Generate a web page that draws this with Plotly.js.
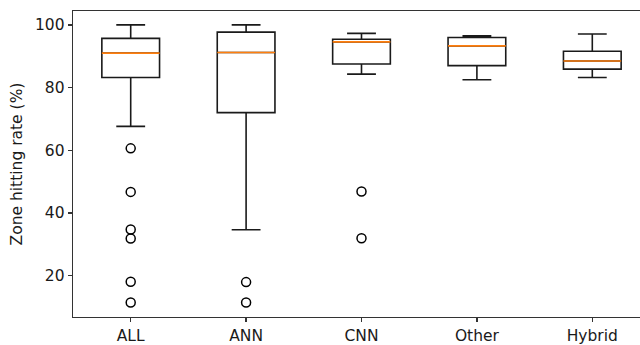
<!DOCTYPE html>
<html>
<head>
<meta charset="utf-8">
<script src="https://cdn.plot.ly/plotly-3.0.1.min.js"></script>
<style>
html, body { margin: 0; padding: 0; overflow: hidden; background: #fff; }
#chart { width: 660px; height: 345px; }
</style>
</head>
<body>
<div id="chart"></div>
<script>
// Data
const categories = ["ALL", "ANN", "CNN", "Other", "Hybrid"];
const lowerWhisker = [67.6, 34.6, 84.3, 82.5, 83.2];
const q1Values     = [83.2, 72.0, 87.5, 87.0, 85.9];
const medianValues = [91.0, 91.2, 94.6, 93.3, 88.5];
const q3Values     = [95.7, 97.7, 95.4, 96.0, 91.6];
const upperWhisker = [100.0, 100.0, 97.3, 96.5, 97.1];
const outliersALL    = [60.6, 46.7, 34.7, 31.8, 18.0, 11.4];
const outliersANN    = [17.9, 11.4];
const outliersCNN    = [46.8, 31.9];
const outliersOther  = [];
const outliersHybrid = [];
const yTicks = [20, 40, 60, 80, 100];

const outlierGroups = [outliersALL, outliersANN, outliersCNN, outliersOther, outliersHybrid];
const positions = categories.map((c, i) => i);
const boxHalf = 0.25;

const traces = [];
traces.push({
  type: "box",
  x: positions,
  q1: q1Values,
  median: medianValues,
  q3: q3Values,
  lowerfence: lowerWhisker,
  upperfence: upperWhisker,
  width: 0.5,
  whiskerwidth: 0.5,
  fillcolor: "rgba(255,255,255,0)",
  line: { color: "#1a1a1a", width: 1.6 },
  boxpoints: false,
  hoverinfo: "skip",
  showlegend: false
});

// median lines (orange) built from the medians
const mx = [], my = [];
positions.forEach((p, i) => {
  mx.push(p - boxHalf, p + boxHalf, null);
  my.push(medianValues[i], medianValues[i], null);
});
traces.push({
  type: "scatter", mode: "lines", x: mx, y: my,
  line: { color: "#ff7f0e", width: 1.6 },
  hoverinfo: "skip", showlegend: false
});

// outliers
const ox = [], oy = [];
outlierGroups.forEach((g, i) => g.forEach(v => { ox.push(positions[i]); oy.push(v); }));
traces.push({
  type: "scatter", mode: "markers", x: ox, y: oy,
  marker: { symbol: "circle-open", size: 9, color: "#000000", line: { width: 1.5, color: "#000000" } },
  hoverinfo: "skip", showlegend: false
});

const layout = {
  width: 660, height: 345,
  margin: { l: 73, r: 10, t: 11, b: 28 },
  paper_bgcolor: "#ffffff", plot_bgcolor: "#ffffff",
  font: { family: "DejaVu Sans, sans-serif", size: 15.5, color: "#1a1a1a" },
  showlegend: false,
  xaxis: {
    range: [-0.5, 4.5],
    tickmode: "array", tickvals: positions, ticktext: categories,
    showgrid: false, zeroline: false,
    showline: true, mirror: true, linecolor: "#333333", linewidth: 1.3,
    ticks: "outside", ticklen: 4, tickcolor: "#333333", tickwidth: 1.3
  },
  yaxis: {
    range: [6.76, 104.44],
    tickmode: "array", tickvals: yTicks, ticktext: yTicks.map(String),
    showgrid: false, zeroline: false,
    showline: true, mirror: true, linecolor: "#333333", linewidth: 1.3,
    ticks: "outside", ticklen: 4, tickcolor: "#333333", tickwidth: 1.3,
    title: { text: "Zone hitting rate (%)", font: { size: 15.5 }, standoff: 8 }
  }
};

Plotly.newPlot("chart", traces, layout, { displayModeBar: false, staticPlot: true });
</script>
</body>
</html>
